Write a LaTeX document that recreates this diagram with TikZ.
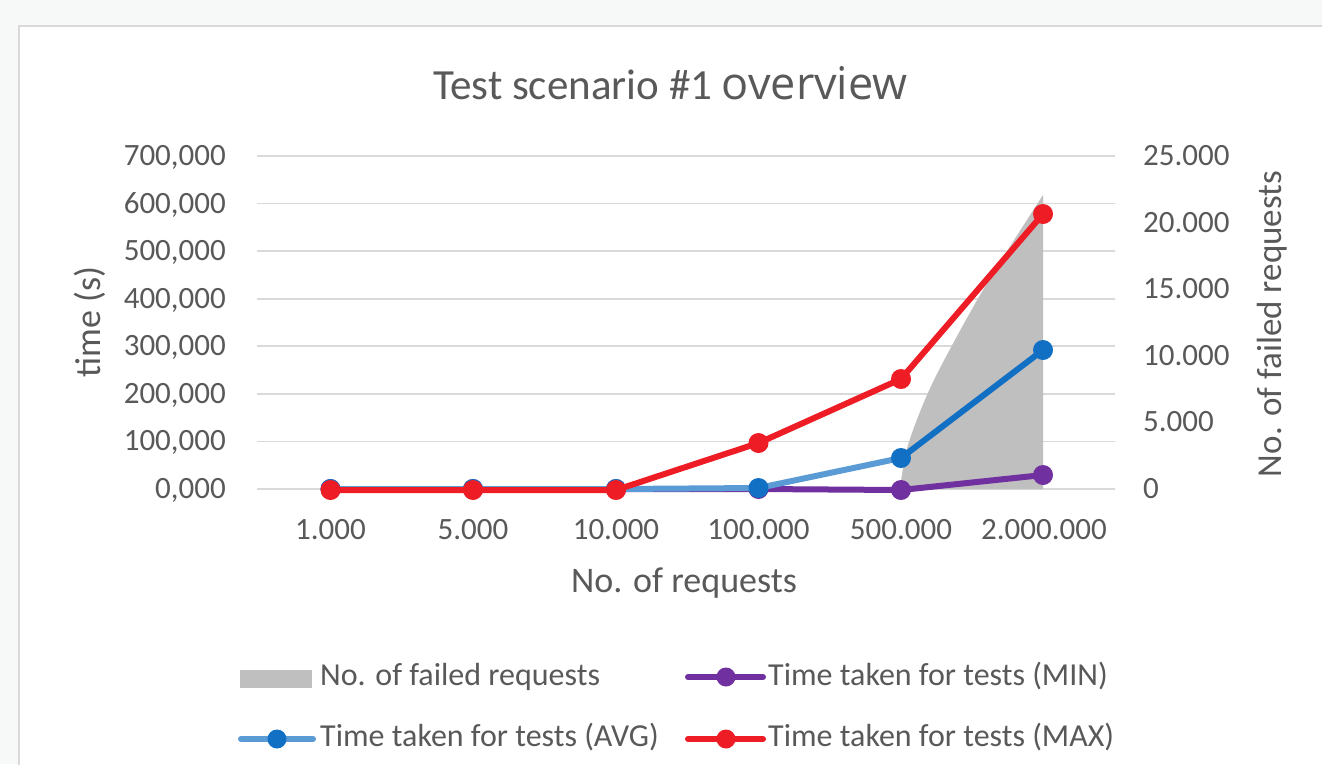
\documentclass[tikz,border=0pt]{standalone}
\usepackage{fontspec}
\setmainfont{Carlito}
\newfontfamily\osans{Open Sans}
\definecolor{bgout}{HTML}{F7F8F8}
\definecolor{panelline}{HTML}{D9D9D9}
\definecolor{gridc}{HTML}{D9D9D9}
\definecolor{txt}{HTML}{595959}
\definecolor{redc}{HTML}{EE1D25}
\definecolor{bluedark}{HTML}{1170C4}
\definecolor{bluelight}{HTML}{5B9BD5}
\definecolor{purplec}{HTML}{7030A0}
\definecolor{areac}{HTML}{BFBFBF}
\tikzset{
  gridline/.style={draw=gridc, line width=1.6pt},
  serline/.style={line width=6pt, line join=round},
  mk/.style={circle, inner sep=0pt, minimum size=20pt, fill=#1, draw=none},
  lmk/.style={circle, inner sep=0pt, minimum size=19pt, fill=#1, draw=none},
  tick/.style={text=txt, font=\fontsize{31}{36}\selectfont, inner sep=0pt},
  axtitle/.style={text=txt, font=\fontsize{36}{42}\selectfont, inner sep=0pt},
  legtext/.style={text=txt, font=\fontsize{32}{38}\selectfont, inner sep=0pt, anchor=base west},
}
\begin{document}
\begin{tikzpicture}[x=1pt,y=-1pt]
\useasboundingbox (0,0) rectangle (1322,764);
\fill[bgout] (0,0) rectangle (1322,764);
\fill[white] (19,26) rectangle (1340,780);
\draw[panelline, line width=2pt] (19,780) -- (19,26) -- (1340,26);

% gridlines
\foreach \i in {0,...,7} {
  \draw[gridline] (257,{489-47.57*\i}) -- (1115,{489-47.57*\i});
}

% left tick labels
\foreach \v [count=\i from 0] in {0,100,200,300,400,500,600,700} {
  \node[tick, anchor=base east] (yl\i) at (226,{489-47.57*\i+9.5}) {\ifnum\v=0 0\else\v\fi,000};
}
% right tick labels
\node[tick, anchor=base west] (yr0) at (1143,498.5) {0};
\node[tick, anchor=base west] (yr1) at (1143,431.9) {5.000};
\node[tick, anchor=base west] (yr2) at (1143,365.3) {10.000};
\node[tick, anchor=base west] (yr3) at (1143,298.7) {15.000};
\node[tick, anchor=base west] (yr4) at (1143,232.1) {20.000};
\node[tick, anchor=base west] (yr5) at (1143,165.5) {25.000};

% x tick labels
\node[tick, anchor=base] (x1) at (330.5,539) {1.000};
\node[tick, anchor=base] (x2) at (473,539) {5.000};
\node[tick, anchor=base] (x3) at (616,539) {10.000};
\node[tick, anchor=base] (x4) at (758.5,539) {100.000};
\node[tick, anchor=base] (x5) at (901,539) {500.000};
\node[tick, anchor=base] (x6) at (1044,539) {2.000.000};

% titles
\node[text=txt, inner sep=0pt, anchor=base west] (title) at (433,99)
  {{\fontsize{43}{50}\selectfont Test scenario \#1 }{\osans\fontsize{45}{50}\selectfont overview}};
\node[axtitle, anchor=base] (xtitle) at (684,592) {No. of requests};
\node[axtitle, rotate=90, anchor=center] (ytitle) at (90,322) {time (s)};
\node[axtitle, rotate=90, anchor=center, font=\fontsize{35}{42}\selectfont] (y2title) at (1272,324) {No. of failed requests};

% failed requests area
\coordinate (g1) at (900,489);
\coordinate (g2) at (1043,195);
\coordinate (g3) at (1043,489);
\fill[areac] plot[smooth, tension=0.5] coordinates {(900,489) (908,445) (933,382) (983,290) (1043,195)} -- (g3) -- cycle;

% data coordinates
\coordinate (p1) at (330.5,489); \coordinate (p2) at (473,489); \coordinate (p3) at (616,489);
\coordinate (p4) at (758.5,489); \coordinate (p5) at (901,490); \coordinate (p6) at (1043,475);
\coordinate (b1) at (330.5,489); \coordinate (b2) at (473,489); \coordinate (b3) at (616,489);
\coordinate (b4) at (758.5,488); \coordinate (b5) at (901,458); \coordinate (b6) at (1043,350);
\coordinate (r1) at (330.5,490); \coordinate (r2) at (473,490); \coordinate (r3) at (616,490);
\coordinate (r4) at (758.5,443); \coordinate (r5) at (901,379); \coordinate (r6) at (1043,214);

% MIN
\draw[serline, purplec] (p1) -- (p2) -- (p3) -- (p4) -- (p5) -- (p6);
\foreach \k in {1,...,6} { \node[mk=purplec] (P\k) at (p\k) {}; }
% AVG
\draw[serline, bluelight] (b1) -- (b2) -- (b3) -- (b4) -- (b5);
\draw[serline, bluedark] (b5) -- (b6);
\foreach \k in {1,...,6} { \node[mk=bluedark] (B\k) at (b\k) {}; }
% MAX
\draw[serline, redc] (r1) -- (r2) -- (r3) -- (r4) -- (r5) -- (r6);
\foreach \k in {1,...,6} { \node[mk=redc] (R\k) at (r\k) {}; }

% legend
\fill[areac] (240,670) rectangle (312,688);
\node[legtext] (lg1) at (320,685) {No. of failed requests};

\coordinate (lpa) at (688,677); \coordinate (lpb) at (763,677);
\draw[serline, purplec, line cap=round] (lpa) -- (lpb);
\node[lmk=purplec] (LP) at (726,677) {};
\node[legtext] (lg2) at (768,685) {Time taken for tests (MIN)};

\coordinate (lba) at (241,739); \coordinate (lbb) at (313,739);
\draw[serline, bluelight, line cap=round] (lba) -- (lbb);
\node[lmk=bluedark] (LB) at (277,739) {};
\node[legtext] (lg3) at (320,746) {Time taken for tests (AVG)};

\coordinate (lra) at (688,739); \coordinate (lrb) at (763,739);
\draw[serline, redc, line cap=round] (lra) -- (lrb);
\node[lmk=redc] (LR) at (726,739) {};
\node[legtext] (lg4) at (768,746) {Time taken for tests (MAX)};
\end{tikzpicture}
\end{document}
